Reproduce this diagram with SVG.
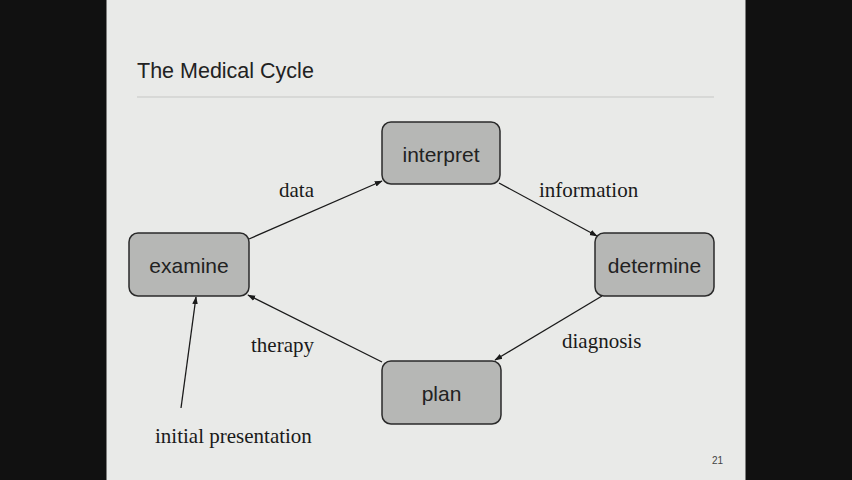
<svg xmlns="http://www.w3.org/2000/svg" width="852" height="480" viewBox="0 0 852 480">
<style>
.node rect{fill:#b6b7b5;stroke:#2a2a2a;stroke-width:1.5}
.node text{font-family:"Liberation Sans",Arial,sans-serif;font-size:21px;fill:#222;text-anchor:middle}
.lbl{font-family:"Liberation Serif","Times New Roman",serif;font-size:21px;fill:#1a1a1a}
#edges line{stroke:#1a1a1a;stroke-width:1.3;marker-end:url(#ah)}
</style>
<defs>
<marker id="ah" viewBox="0 0 10 10" refX="9" refY="5" markerWidth="8" markerHeight="8" markerUnits="userSpaceOnUse" orient="auto">
<path d="M0,1.5 L10,5 L0,8.5 Z" fill="#1a1a1a"/>
</marker>
</defs>
<rect x="0" y="0" width="852" height="480" fill="#111"/>
<rect x="106.5" y="0" width="639" height="480" fill="#e9eae8"/>
<text x="137" y="78" font-family="'Liberation Sans',Arial,sans-serif" font-size="21.5" fill="#222">The Medical Cycle</text>
<line x1="137" y1="97" x2="714" y2="97" stroke="#c6c7c5" stroke-width="1"/>
<g id="edges">
<line x1="249" y1="239" x2="382" y2="181"/>
<line x1="499" y1="183" x2="597" y2="236"/>
<line x1="602" y1="296" x2="495" y2="360"/>
<line x1="382" y1="362" x2="248" y2="295"/>
<line x1="181" y1="408" x2="196" y2="297"/>
</g>
<g id="interpret" class="node"><rect x="382" y="122" width="118" height="62" rx="9"/><text x="441" y="162">interpret</text></g>
<g id="examine" class="node"><rect x="129" y="233" width="120" height="63" rx="9"/><text x="189" y="273">examine</text></g>
<g id="determine" class="node"><rect x="595" y="233" width="119" height="63" rx="9"/><text x="654.5" y="273">determine</text></g>
<g id="plan" class="node"><rect x="382" y="361" width="119" height="63" rx="9"/><text x="441.5" y="401">plan</text></g>
<text class="lbl" x="279" y="197">data</text>
<text class="lbl" x="539" y="197">information</text>
<text class="lbl" x="251" y="352">therapy</text>
<text class="lbl" x="562" y="348">diagnosis</text>
<text class="lbl" x="155" y="443">initial presentation</text>
<text x="712" y="464" font-family="'Liberation Sans',Arial,sans-serif" font-size="10" fill="#444">21</text>
</svg>
